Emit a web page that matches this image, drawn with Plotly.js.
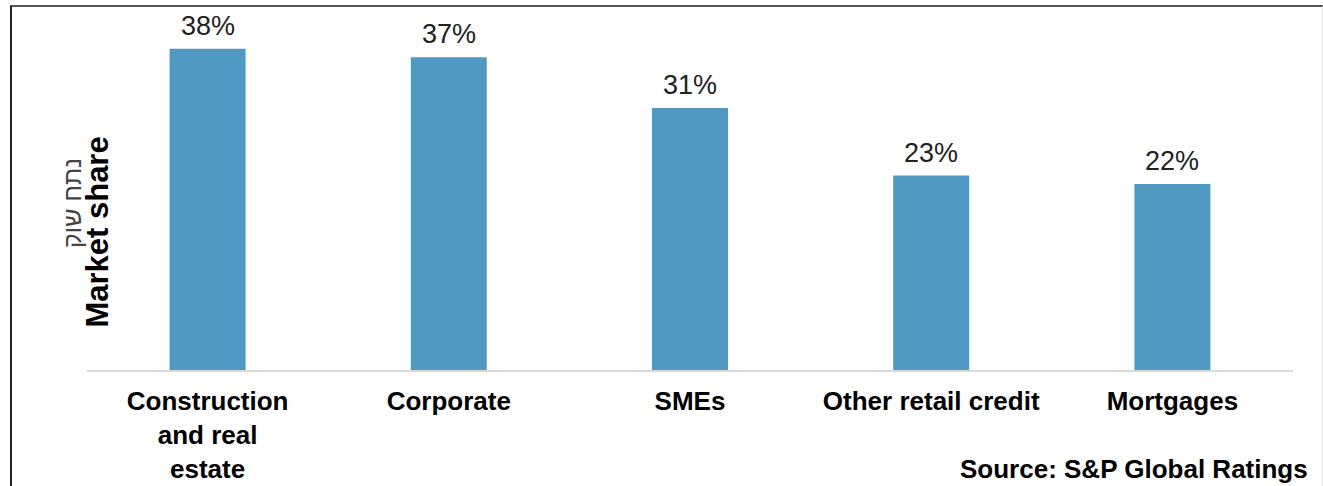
<!DOCTYPE html>
<html>
<head>
<meta charset="utf-8">
<script src="https://cdn.plot.ly/plotly-3.0.1.min.js"></script>
<style>
  html, body { margin: 0; padding: 0; background: #fff; }
  #wrap { position: relative; width: 1323px; height: 486px; }
  #chart { width: 1323px; height: 486px; }
  #frame { position: absolute; left: 10px; top: 5px; width: 1310px; height: 490px;
           border-left: 2px solid #222; border-top: 2px solid #555; border-right: 1px solid #e4e4e4;
           pointer-events: none; }
</style>
</head>
<body>
<div id="wrap">
  <div id="chart"></div>
  <div id="frame"></div>
</div>
<script>
const categories = ["Construction<br>and real<br>estate", "Corporate", "SMEs", "Other retail credit", "Mortgages"];
const values = [38, 37, 31, 23, 22];
const valueLabels = ["38%", "37%", "31%", "23%", "22%"];
const yTitle = "Market share";
const yTitleHebrew = "נתח שוק";
const sourceText = "Source: S&P Global Ratings";

const FONT = "Liberation Sans, Arial, Helvetica, sans-serif";

const trace = {
  type: "bar",
  x: categories,
  y: values,
  marker: { color: "#5099c2" },
  hoverinfo: "none"
};

const annotations = categories.map((c, i) => ({
  x: c, y: values[i], xref: "x", yref: "y",
  text: valueLabels[i], showarrow: false,
  yanchor: "bottom", yshift: 6,
  font: { family: FONT, size: 27, color: "#222" }
}));

annotations.push({
  xref: "paper", yref: "paper", x: 0.0087, y: 0.394,
  text: "<b>" + yTitle + "</b>", textangle: -90, showarrow: false,
  xanchor: "center", yanchor: "middle",
  font: { family: FONT, size: 31, color: "#000" }
});
annotations.push({
  xref: "paper", yref: "paper", x: -0.0125, y: 0.477,
  text: yTitleHebrew, textangle: -90, showarrow: false,
  xanchor: "center", yanchor: "middle",
  font: { family: FONT, size: 25, color: "#444" }
});
annotations.push({
  xref: "paper", yref: "paper", x: 1.014, y: -0.284,
  text: "<b>" + sourceText + "</b>", showarrow: false,
  xanchor: "right", yanchor: "middle",
  font: { family: FONT, size: 26, color: "#000" }
});

const layout = {
  width: 1323, height: 486,
  margin: { l: 87, r: 30, t: 20, b: 116 },
  paper_bgcolor: "#fff", plot_bgcolor: "#fff",
  showlegend: false,
  bargap: 0.685,
  xaxis: {
    type: "category",
    showline: true, linecolor: "#d9d9d9", linewidth: 2,
    showgrid: false, zeroline: false, ticks: "",
    ticklabelstandoff: 7,
    tickfont: { family: FONT, size: 26, color: "#000", weight: "bold" }
  },
  yaxis: {
    range: [0, 41.4],
    showline: false, showgrid: false, zeroline: false,
    showticklabels: false, ticks: ""
  },
  annotations: annotations
};

Plotly.newPlot("chart", [trace], layout, { displayModeBar: false, staticPlot: true });
</script>
</body>
</html>
